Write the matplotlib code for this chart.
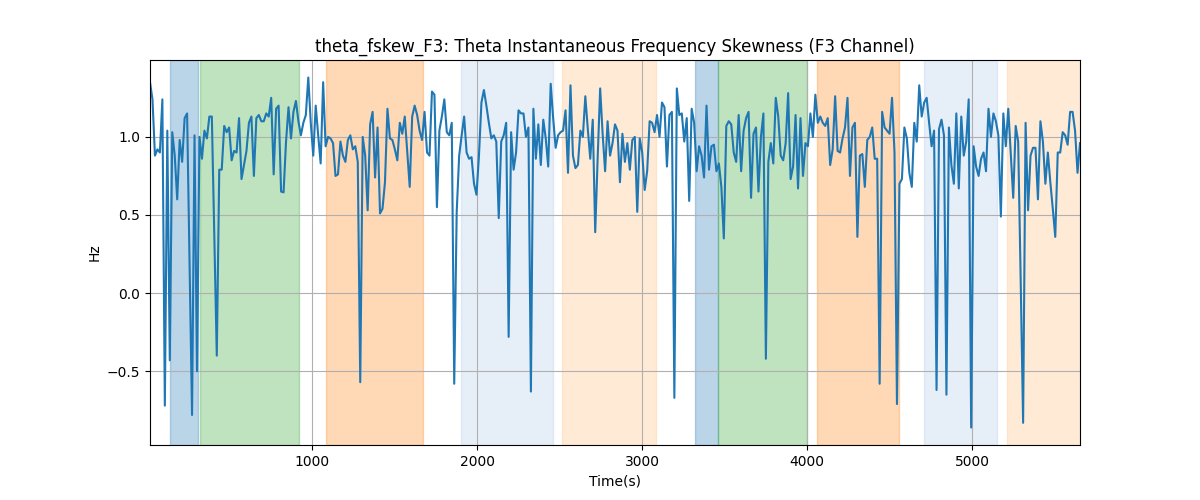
"""
Theta instantaneous frequency skewness on channel F3, with the
labelled sleep/state segments shaded behind the trace.
"""

import numpy as np
import matplotlib
matplotlib.use("Agg")
import matplotlib.pyplot as plt


# ---------------------------------------------------------------------
# Data
# ---------------------------------------------------------------------

t_start = 15.0
t_step = 15.0

fskew = [
    # ~15 - 720 s
    1.35, 1.24, 0.88, 0.92, 0.90, 1.24, -0.72, 1.04, -0.43, 1.03,
    0.88, 0.60, 0.98, 0.84, 1.12, 1.15, 0.18, -0.78, 1.01, -0.50,
    1.00, 0.86, 1.04, 0.99, 1.13, 1.13, 0.37, -0.40, 0.79, 0.79,
    1.07, 1.03, 1.06, 0.85, 0.91, 0.90, 1.12, 0.73, 0.82, 0.91,
    1.09, 1.13, 0.75, 1.12, 1.14, 1.10, 1.10, 1.15,
    # ~735 - 1440 s
    1.13, 1.25, 0.76, 1.18, 1.20, 0.65, 0.645, 0.97, 1.19, 0.99,
    1.16, 1.23, 1.10, 1.01, 1.09, 1.14, 1.38, 1.09, 0.88, 1.20,
    1.01, 0.83, 1.35, 0.94, 1.00, 0.99, 0.96, 0.75, 0.76, 0.97,
    0.88, 0.84, 0.98, 1.01, 0.92, 0.94, 0.84, -0.57, 1.00, 0.88,
    0.53, 1.08, 1.16, 0.74, 1.06, 0.51, 0.54, 0.71,
    # ~1455 - 2145 s
    1.18, 0.99, 0.98, 0.92, 0.85, 1.09, 1.02, 1.13, 0.90, 0.68,
    1.13, 1.20, 1.14, 1.04, 0.98, 1.16, 0.90, 0.88, 1.29, 1.27,
    0.55, 1.04, 1.13, 1.24, 1.03, 1.01, 1.09, -0.58, 0.52, 0.88,
    1.01, 1.13, 0.90, 0.86, 0.87, 0.70, 0.63, 0.88, 1.22, 1.30,
    1.20, 1.09, 0.99, 1.01, 0.97, 0.48, 0.97,
    # ~2160 - 2850 s
    1.01, 1.09, -0.28, 1.03, 0.79, 0.90, 1.17, 1.15, 1.15, 1.00,
    1.06, -0.63, 1.18, 0.86, 1.08, 0.82, 1.11, 0.99, 0.81, 1.34,
    1.12, 0.93, 1.01, 1.03, 1.04, 1.17, 0.77, 1.33, 0.88, 0.80,
    0.82, 1.04, 1.00, 1.26, 1.05, 0.86, 1.11, 0.39, 0.87, 1.31,
    1.02, 0.78, 1.10, 0.88, 0.96, 1.08, 1.04,
    # ~2865 - 3570 s
    0.71, 1.02, 0.84, 0.96, 0.79, 0.98, 1.00, 0.52, 0.99, 0.90,
    0.66, 0.78, 1.10, 1.09, 1.03, 1.14, 1.00, 1.22, 1.19, 0.81,
    1.14, 1.16, -0.67, 1.31, 1.14, 1.15, 0.97, 1.12, 0.59, 1.18,
    1.09, 0.78, 0.94, 0.88, 0.74, 1.20, 0.79, 0.94, 0.95, 0.78,
    0.83, 0.68, 0.35, 1.07, 1.10, 1.08, 0.90, 0.84,
    # ~3585 - 4275 s
    1.14, 0.78, 1.04, 1.12, 1.16, 0.61, 1.02, 1.06, 0.65, 1.00,
    1.15, -0.42, 0.84, 0.96, 0.83, 1.25, 1.13, 0.88, 0.85, 0.96,
    1.28, 0.73, 0.81, 1.14, 0.67, 1.12, 0.75, 0.96, 0.94, 1.15,
    1.00, 1.27, 1.09, 1.13, 1.09, 1.07, 1.12, 0.82, 0.92, 1.26,
    0.91, 0.90, 0.99, 1.06, 1.25, 0.75, 1.06,
    # ~4290 - 4980 s
    1.09, 0.36, 0.88, 0.89, 0.68, 0.98, 1.00, 1.06, 0.86, 0.86,
    -0.58, 1.16, 1.06, 1.04, 1.02, 1.25, 0.90, -0.71, 0.70, 0.73,
    1.06, 0.99, 0.77, 0.68, 1.09, 0.97, 1.33, 1.13, 1.22, 1.25,
    1.09, 0.94, 1.04, -0.62, 1.05, 1.11, 1.01, -0.65, 1.06, 0.82,
    0.70, 1.15, 0.67, 1.13, 0.88, 0.97, 1.24,
    # ~4995 - 5655 s
    -0.86, 0.94, 0.81, 0.75, 0.86, 0.90, 0.78, 1.18, 1.00, 1.15,
    1.10, 1.01, 0.49, 1.15, 0.94, 1.18, 0.89, 0.61, 1.07, 0.97,
    0.10, -0.83, 1.09, 0.53, 0.88, 0.93, 0.93, 0.60, 1.10, 0.97,
    0.70, 0.90, 0.71, 0.54, 0.36, 0.90, 0.90, 1.03, 1.01, 0.95,
    1.16, 1.16, 1.04, 0.77, 0.96,
]

# Shaded segments: (start, end) in seconds, with their colour
seg_start = [135, 318, 1081, 1899, 2512, 3318, 3460, 4058, 4707, 5210]
seg_end = [306, 921, 1673, 2461, 3086, 3460, 4000, 4555, 5153, 5700]
seg_color = ["#1f77b4", "#2ca02c", "#ff7f0e", "#aec7e8", "#ffbb78",
             "#1f77b4", "#2ca02c", "#ff7f0e", "#aec7e8", "#ffbb78"]

t = t_start + t_step * np.arange(len(fskew))


# ---------------------------------------------------------------------
# Plot
# ---------------------------------------------------------------------

fig, ax = plt.subplots(figsize=(12, 5))

for s, e, c in zip(seg_start, seg_end, seg_color):
    ax.axvspan(s, e, color=c, alpha=0.3)

ax.plot(t, fskew, color="tab:blue")

ax.set_xlim(t[0], t[-1])
ax.grid(True)

ax.set_title("theta_fskew_F3: Theta Instantaneous Frequency Skewness (F3 Channel)")
ax.set_xlabel("Time(s)")
ax.set_ylabel("Hz")

fig.savefig("out.png", dpi=100)
